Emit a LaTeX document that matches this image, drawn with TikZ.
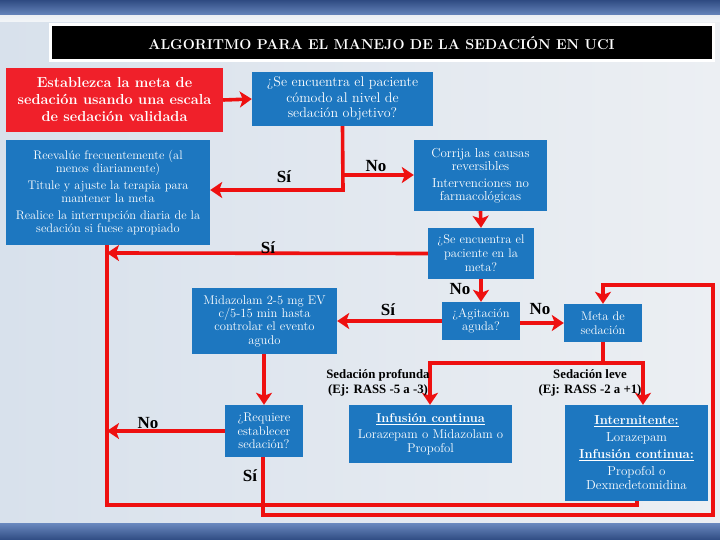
\documentclass[tikz,border=0pt]{standalone}
\usepackage{fontspec}
\newfontfamily\lib{Liberation Serif}
\usetikzlibrary{arrows.meta,calc}
\definecolor{boxblue}{HTML}{1D77C0}
\definecolor{lred}{HTML}{EE1010}
\definecolor{boxred}{HTML}{F0202A}
\definecolor{bgA}{HTML}{D8E1EC}
\definecolor{bgB}{HTML}{ECEFF3}
\definecolor{bandA}{HTML}{6A89BF}
\definecolor{bandB}{HTML}{2F4B82}
\begin{document}
\begin{tikzpicture}[x=1pt,y=-1pt,
  bbox/.style={fill=boxblue, text=white, align=center, inner sep=1pt,
    font=\fontsize{12}{13.5}\selectfont},
  conn/.style={draw=lred, line width=3.6pt},
  arr/.style={conn, -{Stealth[length=12pt,width=16pt,inset=3pt]}},
  lbl/.style={font=\lib\fontsize{17}{18}\bfseries\selectfont, text=black, inner sep=0pt},
  sublbl/.style={font=\lib\fontsize{12.8}{15}\bfseries\selectfont, text=black, inner sep=0pt, align=center},
]
\useasboundingbox (0,0) rectangle (720,540);
% background
\shade[left color=bgA, right color=bgB] (0,0) rectangle (720,540);
\shade[top color=bandB, bottom color=bandA] (0,16) rectangle (720,0);
\shade[top color=bgB, bottom color=white!70!bgA] (0,22) rectangle (720,16);
\shade[top color=bandA, bottom color=bandB] (0,540) rectangle (720,523);

% title
\node[fill=black, draw=white, line width=3pt, minimum width=663pt, minimum height=36pt,
  text=white, font=\fontsize{14.3}{18}\bfseries\selectfont] (title) at (381.5,43)
  {ALGORITMO PARA EL MANEJO DE LA SEDACIÓN EN UCI};

% boxes
\node[fill=boxred, text=white, align=center, inner sep=1pt,
  font=\fontsize{14.5}{17}\bfseries\selectfont,
  minimum width=217pt, minimum height=64pt] (goal) at (114.5,100)
  {Establezca la meta de\\sedación usando una escala\\de sedación validada};
\node[bbox, minimum width=181pt, minimum height=54pt,
  font=\fontsize{14}{15.5}\selectfont] (comodo) at (342.5,99)
  {¿Se encuentra el paciente\\cómodo al nivel de\\sedación objetivo?};
\node[bbox, minimum width=204pt, minimum height=105pt,
  font=\fontsize{12.4}{12.8}\selectfont] (reev) at (108,192.5)
  {Reevalúe frecuentemente (al\\menos diariamente)\\[4.5pt]Titule y ajuste la terapia para\\mantener la meta\\[4.5pt]Realice la interrupción diaria de la\\sedación si fuese apropiado};
\node[bbox, minimum width=133pt, minimum height=71pt,
  font=\fontsize{13}{13}\selectfont] (corr) at (480.5,175.5)
  {Corrija las causas\\reversibles\\[4pt]Intervenciones no\\farmacológicas};
\node[bbox, minimum width=106pt, minimum height=51pt,
  font=\fontsize{12.5}{14}\selectfont] (meta) at (481,253.5)
  {¿Se encuentra el\\paciente en la\\meta?};
\node[bbox, minimum width=78pt, minimum height=38pt,
  font=\fontsize{12.5}{13.5}\selectfont] (agit) at (481,321)
  {¿Agitación\\aguda?};
\node[bbox, minimum width=78pt, minimum height=38pt,
  font=\fontsize{12.5}{13.5}\selectfont] (msed) at (603,323)
  {Meta de\\sedación};
\node[bbox, minimum width=145pt, minimum height=66pt,
  font=\fontsize{12.6}{13.3}\selectfont] (mida) at (264.5,321)
  {Midazolam 2-5 mg EV\\c/5-15 min hasta\\controlar el evento\\agudo};
\node[bbox, minimum width=78pt, minimum height=52pt,
  font=\fontsize{12.6}{13.3}\selectfont] (req) at (264,431)
  {¿Requiere\\establecer\\sedación?};
\node[bbox, minimum width=163pt, minimum height=58pt,
  font=\fontsize{12.8}{14}\selectfont] (infu) at (430.5,434)
  {\textbf{\underline{Infusión continua}}\\[2pt]Lorazepam o Midazolam o\\Propofol};
\node[bbox, minimum width=143pt, minimum height=96pt,
  font=\fontsize{13}{14}\selectfont] (inte) at (636.5,453)
  {\textbf{\underline{Intermitente:}}\\[3pt]Lorazepam\\[3pt]\textbf{\underline{Infusión continua:}}\\[3pt]Propofol o\\Dexmedetomidina};

% coordinates
\coordinate (c1) at (343,190);
\coordinate (c2) at (343,175);
\coordinate (lcorner) at (107,253);
\coordinate (lno) at (107,431);
\coordinate (lbot) at (107,505);
\coordinate (ibot) at (637,505);
\coordinate (rbot1) at (263,515);
\coordinate (rbot2) at (713,515);
\coordinate (rtop) at (713,285);
\coordinate (mtop) at (603,285);
\coordinate (split) at (603,363);
\coordinate (sl) at (430,363);
\coordinate (sr) at (643,363);

% connectors
\draw[arr] (goal.east) -- (comodo.west);
\draw[arr] (comodo.south) -- (c1) -- (reev.east |- c1);
\draw[arr] (c2) -- (corr.west |- c2);
\draw[arr] (corr.south) -- (meta.north);
\draw[arr] (meta.west) -- (lcorner);
\draw[conn] (inte.south -| ibot) -- (ibot) -- (lbot) -- (reev.south -| lbot);
\draw[arr] (meta.south) -- (agit.north);
\draw[arr] (agit.west) -- (mida.east |- agit.west);
\draw[arr] (agit.east |- msed.west) -- (msed.west);
\draw[arr] (mida.south -| req.north) -- (req.north);
\draw[arr] (req.west) -- (lno);
\draw[arr] (req.south -| rbot1) -- (rbot1) -- (rbot2) -- (rtop) -- (mtop) -- (msed.north);
\draw[conn] (msed.south) -- (split);
\draw[arr] (sr) -- (sl) -- (sl |- infu.north);
\draw[arr] (sl) -- (sr) -- (sr |- inte.north);

% labels
\node[lbl] (l1) at (284,177) {Sí};
\node[lbl] (l2) at (376,166) {No};
\node[lbl] (l3) at (268,248) {Sí};
\node[lbl] (l4) at (460,289) {No};
\node[lbl] (l5) at (388,310) {Sí};
\node[lbl] (l6) at (540,309) {No};
\node[lbl] (l7) at (148,423) {No};
\node[lbl] (l8) at (250,476) {Sí};
\node[sublbl] (sp) at (378,383) {Sedación profunda\\(Ej: RASS -5 a -3)};
\node[sublbl] (sv) at (590,383) {Sedación leve\\(Ej: RASS -2 a +1)};
\end{tikzpicture}
\end{document}
